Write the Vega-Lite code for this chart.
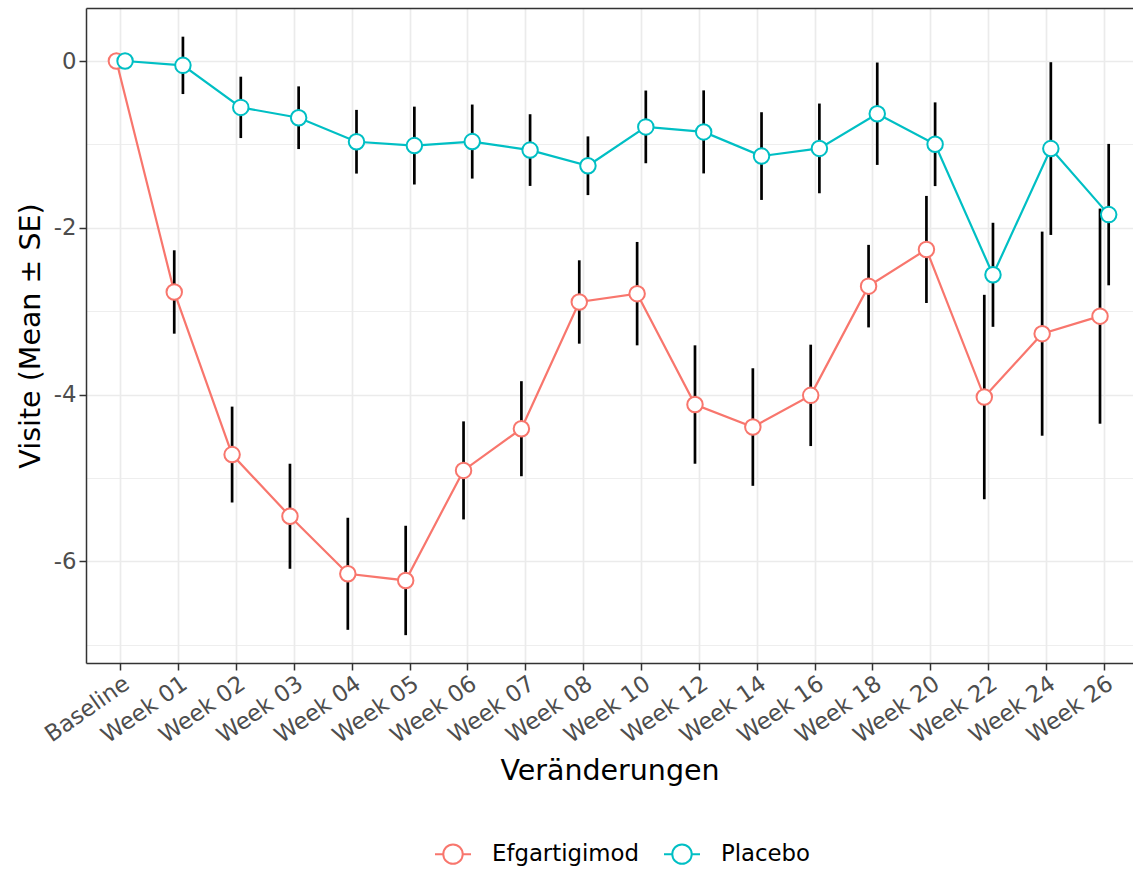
{
  "$schema": "https://vega.github.io/schema/vega-lite/v6.json",
  "width": 1047,
  "height": 655,
  "autosize": {"type": "none"},
  "padding": {"left": 86, "top": 8, "right": 0, "bottom": 208},
  "background": "white",
  "config": {"view": {"stroke": null}, "font": "DejaVu Sans"},
  "data": {
    "values": [
      {"visit": "Baseline", "group": "Efgartigimod", "mean": 0, "lower": 0, "upper": 0},
      {"visit": "Week 01", "group": "Efgartigimod", "mean": -2.77, "lower": -3.27, "upper": -2.27},
      {"visit": "Week 02", "group": "Efgartigimod", "mean": -4.72, "lower": -5.295, "upper": -4.145},
      {"visit": "Week 03", "group": "Efgartigimod", "mean": -5.46, "lower": -6.09, "upper": -4.83},
      {"visit": "Week 04", "group": "Efgartigimod", "mean": -6.15, "lower": -6.822, "upper": -5.478},
      {"visit": "Week 05", "group": "Efgartigimod", "mean": -6.23, "lower": -6.886, "upper": -5.574},
      {"visit": "Week 06", "group": "Efgartigimod", "mean": -4.91, "lower": -5.498, "upper": -4.322},
      {"visit": "Week 07", "group": "Efgartigimod", "mean": -4.41, "lower": -4.98, "upper": -3.84},
      {"visit": "Week 08", "group": "Efgartigimod", "mean": -2.89, "lower": -3.39, "upper": -2.39},
      {"visit": "Week 10", "group": "Efgartigimod", "mean": -2.79, "lower": -3.41, "upper": -2.17},
      {"visit": "Week 12", "group": "Efgartigimod", "mean": -4.12, "lower": -4.83, "upper": -3.41},
      {"visit": "Week 14", "group": "Efgartigimod", "mean": -4.39, "lower": -5.095, "upper": -3.685},
      {"visit": "Week 16", "group": "Efgartigimod", "mean": -4.01, "lower": -4.618, "upper": -3.402},
      {"visit": "Week 18", "group": "Efgartigimod", "mean": -2.70, "lower": -3.195, "upper": -2.205},
      {"visit": "Week 20", "group": "Efgartigimod", "mean": -2.26, "lower": -2.902, "upper": -1.618},
      {"visit": "Week 22", "group": "Efgartigimod", "mean": -4.03, "lower": -5.256, "upper": -2.804},
      {"visit": "Week 24", "group": "Efgartigimod", "mean": -3.27, "lower": -4.494, "upper": -2.046},
      {"visit": "Week 26", "group": "Efgartigimod", "mean": -3.06, "lower": -4.35, "upper": -1.77},
      {"visit": "Baseline", "group": "Placebo", "mean": 0, "lower": 0, "upper": 0},
      {"visit": "Week 01", "group": "Placebo", "mean": -0.052, "lower": -0.396, "upper": 0.292},
      {"visit": "Week 02", "group": "Placebo", "mean": -0.556, "lower": -0.924, "upper": -0.188},
      {"visit": "Week 03", "group": "Placebo", "mean": -0.68, "lower": -1.056, "upper": -0.304},
      {"visit": "Week 04", "group": "Placebo", "mean": -0.968, "lower": -1.35, "upper": -0.586},
      {"visit": "Week 05", "group": "Placebo", "mean": -1.014, "lower": -1.481, "upper": -0.547},
      {"visit": "Week 06", "group": "Placebo", "mean": -0.966, "lower": -1.41, "upper": -0.522},
      {"visit": "Week 07", "group": "Placebo", "mean": -1.068, "lower": -1.498, "upper": -0.638},
      {"visit": "Week 08", "group": "Placebo", "mean": -1.256, "lower": -1.608, "upper": -0.904},
      {"visit": "Week 10", "group": "Placebo", "mean": -0.79, "lower": -1.226, "upper": -0.354},
      {"visit": "Week 12", "group": "Placebo", "mean": -0.85, "lower": -1.348, "upper": -0.352},
      {"visit": "Week 14", "group": "Placebo", "mean": -1.14, "lower": -1.666, "upper": -0.614},
      {"visit": "Week 16", "group": "Placebo", "mean": -1.048, "lower": -1.586, "upper": -0.51},
      {"visit": "Week 18", "group": "Placebo", "mean": -0.632, "lower": -1.246, "upper": -0.018},
      {"visit": "Week 20", "group": "Placebo", "mean": -0.998, "lower": -1.5, "upper": -0.496},
      {"visit": "Week 22", "group": "Placebo", "mean": -2.564, "lower": -3.188, "upper": -1.94},
      {"visit": "Week 24", "group": "Placebo", "mean": -1.05, "lower": -2.086, "upper": -0.014},
      {"visit": "Week 26", "group": "Placebo", "mean": -1.842, "lower": -2.69, "upper": -0.994}
    ]
  },
  "layer": [
    {
      "mark": {"type": "line", "strokeWidth": 2.2},
      "encoding": {
        "x": {
          "field": "visit", "type": "nominal", "sort": null,
          "scale": {"type": "band", "paddingInner": 0.7, "paddingOuter": 0.3976, "align": 0.566},
          "axis": {
            "orient": "bottom", "bandPosition": 0.5,
            "grid": true, "gridColor": "#EBEBEB", "gridWidth": 1.7,
            "tickSize": 7, "tickWidth": 1.5, "tickColor": "#333333",
            "domain": true, "domainColor": "#333333", "domainWidth": 1.5,
            "labelAngle": -35, "labelAlign": "right", "labelBaseline": "top",
            "labelFontSize": 22.8, "labelColor": "#4D4D4D", "labelPadding": 2, "labelOverlap": false,
            "title": "Veränderungen", "titleFontSize": 28.5, "titleFontWeight": "normal",
            "titleColor": "black", "titlePadding": 9
          }
        },
        "xOffset": {"field": "group", "type": "nominal", "sort": ["Efgartigimod", "Placebo"], "scale": {"type": "band", "paddingInner": 0, "paddingOuter": 0}},
        "y": {
          "field": "mean", "type": "quantitative", "title": "Visite (Mean ± SE)",
          "scale": {"domain": [-7.22, 0.636], "nice": false, "zero": false},
          "axis": {
            "values": [-7, -6, -5, -4, -3, -2, -1, 0],
            "labelExpr": "datum.value % 2 === 0 ? '' + datum.value : ''",
            "grid": true, "gridColor": "#EBEBEB",
            "gridWidth": {"condition": {"test": "datum.value % 2 === 0", "value": 1.7}, "value": 0.85},
            "tickOpacity": {"condition": {"test": "datum.value % 2 === 0", "value": 1}, "value": 0},
            "tickSize": 7, "tickWidth": 1.5, "tickColor": "#333333",
            "domain": true, "domainColor": "#333333", "domainWidth": 1.5,
            "labelFontSize": 22.8, "labelColor": "#4D4D4D", "labelPadding": 3,
            "titleFontSize": 28.5, "titleFontWeight": "normal", "titleColor": "black", "titlePadding": 8
          }
        },
        "color": {
          "field": "group", "type": "nominal",
          "scale": {"domain": ["Efgartigimod", "Placebo"], "range": ["#F8766D", "#00BFC4"]},
          "legend": {
            "orient": "none", "legendX": 348, "legendY": 827, "direction": "horizontal",
            "title": null, "padding": 0,
            "symbolType": "M-1,0L-0.54,0M0.54,0L1,0M-0.54,0A0.54,0.54,0,1,1,0.54,0A0.54,0.54,0,1,1,-0.54,0",
            "symbolSize": 1296, "symbolStrokeWidth": 2, "symbolFillColor": "white", "symbolOpacity": 1,
            "labelFontSize": 22.8, "labelColor": "black", "labelOffset": 20, "columnPadding": 21,
            "encode": {"symbols": {"update": {"fill": {"value": "white"}, "opacity": {"value": 1}}}}
          }
        }
      }
    },
    {
      "mark": {"type": "rule", "color": "black", "strokeWidth": 2.7},
      "encoding": {
        "x": {
          "field": "visit", "type": "nominal", "sort": null,
          "axis": {"orient": "top", "labels": false, "ticks": false, "grid": false, "domain": true, "domainColor": "#333333", "domainWidth": 1.5, "title": null}
        },
        "xOffset": {"field": "group", "type": "nominal", "sort": ["Efgartigimod", "Placebo"]},
        "y": {"field": "lower", "type": "quantitative", "title": "Visite (Mean ± SE)"},
        "y2": {"field": "upper"}
      }
    },
    {
      "mark": {"type": "point", "filled": false, "fill": "white", "fillOpacity": 1, "opacity": 1, "size": 240, "strokeWidth": 2},
      "encoding": {
        "x": {"field": "visit", "type": "nominal", "sort": null, "axis": null},
        "xOffset": {"field": "group", "type": "nominal", "sort": ["Efgartigimod", "Placebo"]},
        "y": {"field": "mean", "type": "quantitative", "title": "Visite (Mean ± SE)"},
        "color": {"field": "group", "type": "nominal"}
      }
    }
  ],
  "resolve": {"axis": {"x": "independent"}}
}
